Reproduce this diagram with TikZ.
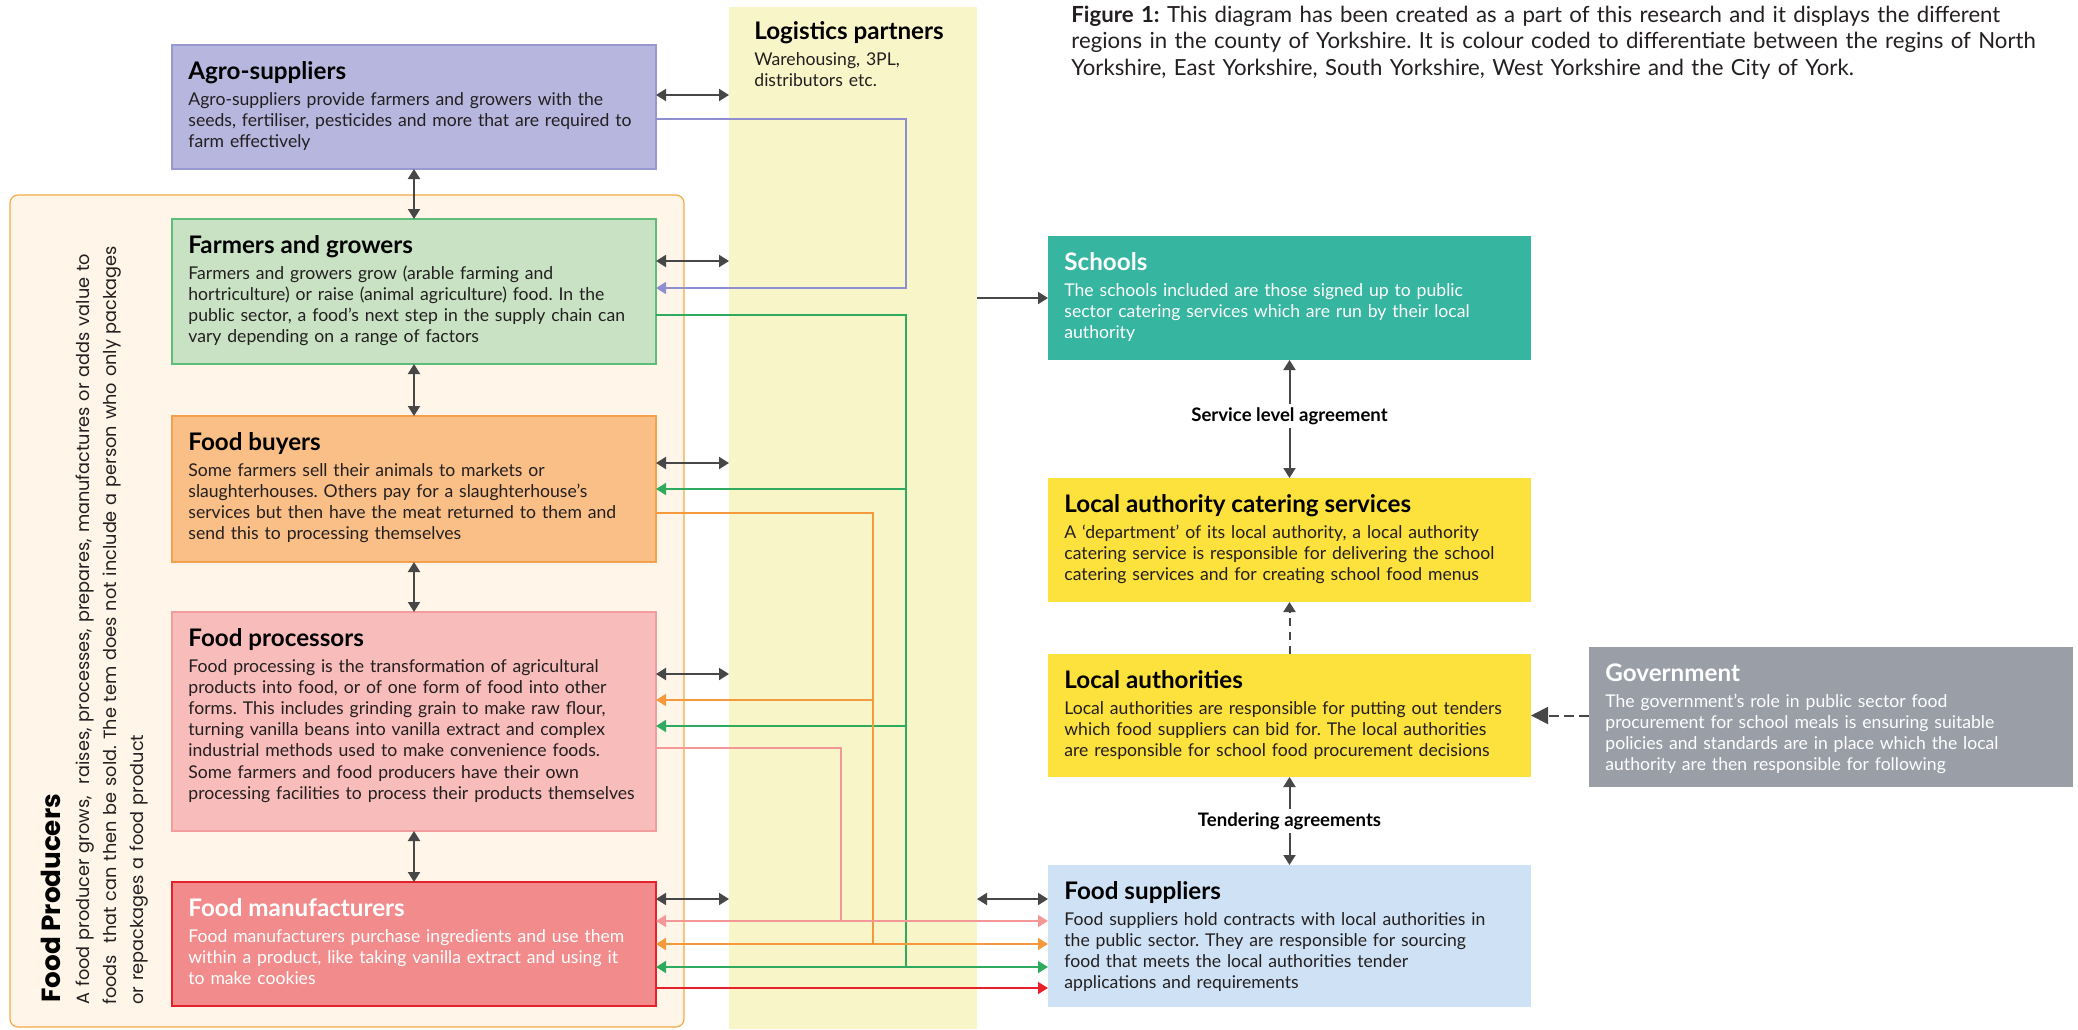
\documentclass[tikz,border=0pt]{standalone}
\usepackage{fontspec}
\setmainfont{Lato}
\newfontfamily\popfont{Poppins}
\usetikzlibrary{arrows.meta}
\frenchspacing
\definecolor{logiY}{HTML}{F8F5C9}
\definecolor{fpFill}{HTML}{FFF6E9}
\definecolor{fpLine}{HTML}{F6A944}
\definecolor{agroF}{HTML}{B6B6DE}
\definecolor{agroL}{HTML}{9999D1}
\definecolor{farmF}{HTML}{C9E2C4}
\definecolor{farmL}{HTML}{5DBE7C}
\definecolor{buyF}{HTML}{F9BF87}
\definecolor{buyL}{HTML}{F5A04D}
\definecolor{procF}{HTML}{F8BDBB}
\definecolor{procL}{HTML}{F29D9D}
\definecolor{manuF}{HTML}{F28C8C}
\definecolor{manuL}{HTML}{E5222B}
\definecolor{schoolF}{HTML}{36B5A0}
\definecolor{yelF}{HTML}{FDE13C}
\definecolor{govF}{HTML}{9A9EA7}
\definecolor{supF}{HTML}{CFE2F5}
\definecolor{agray}{HTML}{474747}
\definecolor{lavL}{HTML}{8E8ED0}
\definecolor{grnL}{HTML}{2FAA5E}
\definecolor{orgL}{HTML}{F59A3C}
\definecolor{pnkL}{HTML}{F49797}
\definecolor{redL}{HTML}{E8202A}
\definecolor{txt}{HTML}{231F20}
\begin{document}
\frenchspacing
\begin{tikzpicture}[x=0.5pt,y=-0.5pt,
  boxshape/.style={rectangle,anchor=north west,inner sep=0pt,outer sep=0pt,minimum width=242pt},
  ttl/.style={anchor=base west,inner sep=0pt,font=\fontsize{12.1}{14}\selectfont\bfseries},
  bdy/.style={anchor=base west,inner sep=0pt,text width=260pt,align=left,font=\fontsize{8.8}{10.6}\selectfont,text=txt},
  lbl/.style={inner xsep=2pt,inner ysep=1.5pt,font=\fontsize{9.3}{10}\selectfont\bfseries},
  >={Triangle[length=5pt,width=6pt]},
  gar/.style={draw=agray,line width=1pt},
  cl/.style={line width=0.8pt},
]
\useasboundingbox (0,0) rectangle (2078,1029);
% backgrounds
\node[boxshape,fill=logiY,minimum width=124pt,minimum height=511pt] (logi) at (729,7) {};
\node[boxshape,fill=fpFill,draw=fpLine,line width=0.6pt,rounded corners=4pt,minimum width=337pt,minimum height=416pt] (fp) at (10,195) {};
% left boxes
\node[boxshape,fill=agroF,draw=agroL,line width=0.6pt,minimum height=62pt] (agro) at (172,45) {};
\node[boxshape,fill=farmF,draw=farmL,line width=0.6pt,minimum height=72.5pt] (farm) at (172,219) {};
\node[boxshape,fill=buyF,draw=buyL,line width=0.6pt,minimum height=73pt] (buy) at (172,416) {};
\node[boxshape,fill=procF,draw=procL,line width=0.6pt,minimum height=109.5pt] (proc) at (172,612) {};
\node[boxshape,fill=manuF,draw=manuL,line width=0.6pt,minimum height=62pt] (manu) at (172,882) {};
% right boxes
\node[boxshape,fill=schoolF,minimum width=241.5pt,minimum height=62pt] (school) at (1048,236) {};
\node[boxshape,fill=yelF,minimum width=241.5pt,minimum height=62pt] (lacs) at (1048,478) {};
\node[boxshape,fill=yelF,minimum width=241.5pt,minimum height=61.5pt] (la) at (1048,654) {};
\node[boxshape,fill=govF,minimum width=242pt,minimum height=70pt] (gov) at (1589,647) {};
\node[boxshape,fill=supF,minimum width=241.5pt,minimum height=71pt] (sup) at (1048,865) {};
% texts
\node[anchor=base west,inner sep=0pt,text width=540pt,align=left,font=\fontsize{11.1}{13.25}\selectfont,text=txt] (cap) at (1071,22)
 {\textbf{Figure 1:} This diagram has been created as a part of this research and it displays the different\\
  regions in the county of Yorkshire. It is colour coded to differentiate between the regins of North\\
  Yorkshire, East Yorkshire, South Yorkshire, West Yorkshire and the City of York.};
\node[ttl] (logiT) at (754,39) {Logistics partners};
\node[bdy] (logiB) at (754,65) {Warehousing, 3PL,\\distributors etc.};
\node[anchor=base west,inner sep=0pt,rotate=90,font=\popfont\fontsize{13.1}{14}\selectfont\bfseries] (fpT) at (61,1003) {Food Producers};
\node[anchor=base west,inner sep=0pt,rotate=90,text width=430pt,align=left,font=\popfont\fontsize{8.85}{13.5}\selectfont,text=txt] (fpB) at (89,1005)
 {A food producer grows,~ raises, processes, prepares, manufactures or adds value to\\
  foods~ that can then be sold. The tem does not include a person who only packages\\
  or repackages a food product};
\node[ttl] (agroT) at (188,79) {Agro-suppliers};
\node[bdy] (agroB) at (188,105) {Agro-suppliers provide farmers and growers with the\\
 seeds, fertiliser, pesticides and more that are required to\\ farm effectively};
\node[ttl] (farmT) at (188,253) {Farmers and growers};
\node[bdy] (farmB) at (188,279) {Farmers and growers grow (arable farming and\\
 hortriculture) or raise (animal agriculture) food. In the\\
 public sector, a food’s next step in the supply chain can\\
 vary depending on a range of factors};
\node[ttl] (buyT) at (188,450) {Food buyers};
\node[bdy] (buyB) at (188,476) {Some farmers sell their animals to markets or\\
 slaughterhouses. Others pay for a slaughterhouse’s\\
 services but then have the meat returned to them and\\
 send this to processing themselves};
\node[ttl] (procT) at (188,646) {Food processors};
\node[bdy] (procB) at (188,672) {Food processing is the transformation of agricultural\\
 products into food, or of one form of food into other\\
 forms. This includes grinding grain to make raw flour,\\
 turning vanilla beans into vanilla extract and complex\\
 industrial methods used to make convenience foods.\\
 Some farmers and food producers have their own\\
 processing facilities to process their products themselves};
\node[ttl,text=white] (manuT) at (188,916) {Food manufacturers};
\node[bdy,text=white] (manuB) at (188,942) {Food manufacturers purchase ingredients and use them\\
 within a product, like taking vanilla extract and using it\\ to make cookies};
\node[ttl,text=white] (schoolT) at (1064,270) {Schools};
\node[bdy,text=white] (schoolB) at (1064,296) {The schools included are those signed up to public\\
 sector catering services which are run by their local\\ authority};
\node[ttl] (lacsT) at (1064,512) {Local authority catering services};
\node[bdy] (lacsB) at (1064,538) {A ‘department’ of its local authority, a local authority\\
 catering service is responsible for delivering the school\\
 catering services and for creating school food menus};
\node[ttl] (laT) at (1064,688) {Local authorities};
\node[bdy] (laB) at (1064,714) {Local authorities are responsible for putting out tenders\\
 which food suppliers can bid for. The local authorities\\
 are responsible for school food procurement decisions};
\node[ttl,text=white] (govT) at (1605,681) {Government};
\node[bdy,text=white] (govB) at (1605,707) {The government’s role in public sector food\\
 procurement for school meals is ensuring suitable\\
 policies and standards are in place which the local\\
 authority are then responsible for following};
\node[ttl] (supT) at (1064,899) {Food suppliers};
\node[bdy] (supB) at (1064,925) {Food suppliers hold contracts with local authorities in\\
 the public sector. They are responsible for sourcing\\
 food that meets the local authorities tender\\
 applications and requirements};
% vertical chain arrows
\draw[gar,<->] (agro.south) -- (farm.north);
\draw[gar,<->] (farm.south) -- (buy.north);
\draw[gar,<->] (buy.south) -- (proc.north);
\draw[gar,<->] (proc.south) -- (manu.north);
% to logistics
\draw[gar,<->] (agro.east |- 0,95) -- (logi.west |- 0,95);
\draw[gar,<->] (farm.east |- 0,261) -- (logi.west |- 0,261);
\draw[gar,<->] (buy.east |- 0,463) -- (logi.west |- 0,463);
\draw[gar,<->] (proc.east |- 0,674) -- (logi.west |- 0,674);
\draw[gar,<->] (manu.east |- 0,899) -- (logi.west |- 0,899);
\draw[gar,<->] (logi.east |- 0,899) -- (sup.west |- 0,899);
\draw[gar,->] (logi.east |- 0,298) -- (school.west |- 0,298);
% lavender
\draw[cl,draw=lavL,->] (agro.east |- 0,119) -| (906,288) -- (farm.east |- 0,288);
% green
\draw[cl,draw=grnL] (farm.east |- 0,315) -| (906,967);
\draw[cl,draw=grnL,->] (906,489) -- (buy.east |- 0,489);
\draw[cl,draw=grnL,->] (906,726) -- (proc.east |- 0,726);
\draw[cl,draw=grnL,<->] (manu.east |- 0,967) -- (sup.west |- 0,967);
% orange
\draw[cl,draw=orgL] (buy.east |- 0,513) -| (873,944);
\draw[cl,draw=orgL,->] (873,700) -- (proc.east |- 0,700);
\draw[cl,draw=orgL,<->] (manu.east |- 0,944) -- (sup.west |- 0,944);
% pink
\draw[cl,draw=pnkL] (proc.east |- 0,748) -| (841,921);
\draw[cl,draw=pnkL,<->] (manu.east |- 0,921) -- (sup.west |- 0,921);
% red
\draw[cl,draw=redL,->] (manu.east |- 0,988) -- (sup.west |- 0,988);
% right column
\node[lbl] (sla) at (1289.5,416) {Service level agreement};
\draw[gar,->] (sla.north) -- (school.south);
\draw[gar,->] (sla.south) -- (lacs.north);
\draw[gar,dash pattern=on 4pt off 3pt,->] (la.north) -- (lacs.south);
\node[lbl] (tend) at (1289.5,821) {Tendering agreements};
\draw[gar,->] (tend.north) -- (la.south);
\draw[gar,->] (tend.south) -- (sup.north);
\draw[gar,dash pattern=on 5pt off 2.5pt,-{Triangle[length=8.5pt,width=8.5pt]}] (gov.west |- la.east) -- (la.east);
\end{tikzpicture}
\end{document}
